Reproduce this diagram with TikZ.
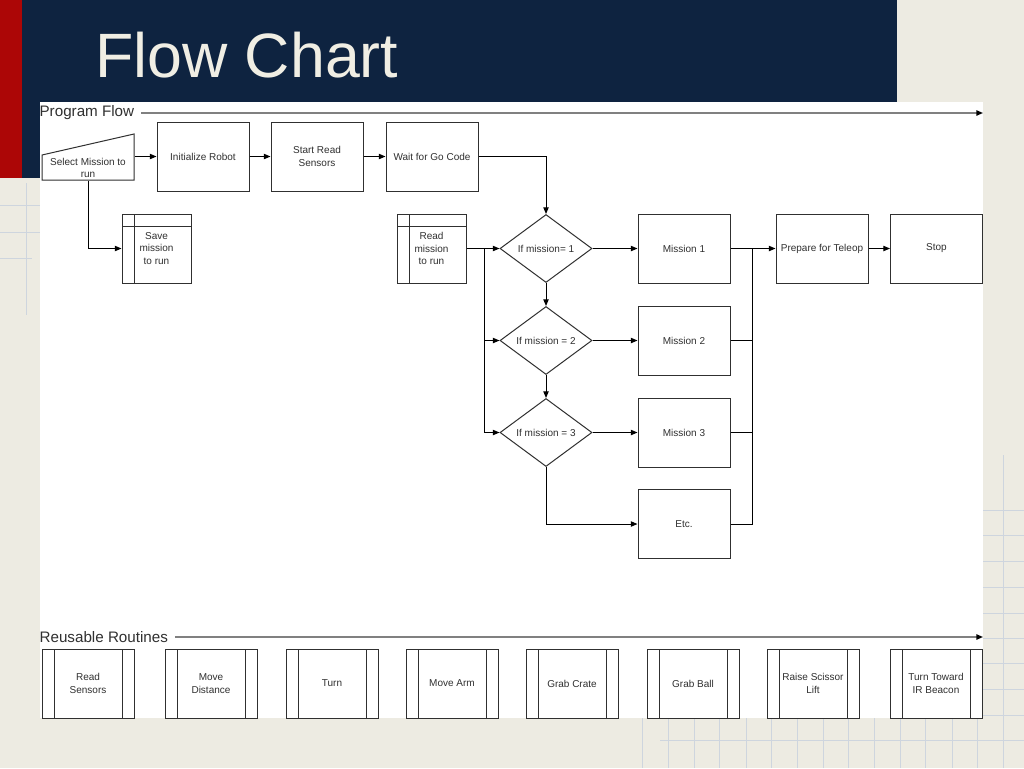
\documentclass[tikz,border=0pt]{standalone}
\usepackage{fontspec}
\setmainfont{Liberation Sans}
\usetikzlibrary{shapes.geometric,arrows.meta}
\definecolor{navy}{RGB}{14,35,64}
\definecolor{slidered}{RGB}{172,6,6}
\definecolor{paper}{RGB}{237,235,226}
\definecolor{gridc}{RGB}{206,213,222}
\definecolor{edge}{RGB}{48,48,48}
\definecolor{titlec}{RGB}{240,238,228}

\begin{document}
\begin{tikzpicture}
[x=0.75pt,y=-0.75pt]
\tikzset{box/.style={rectangle,draw=edge,line width=0.75pt,minimum width=69pt,minimum height=51.75pt,inner sep=1pt,align=center,text=edge,font=\fontsize{7.5}{9.2}\selectfont}}
\tikzset{store/.style={box,minimum width=51.75pt,path picture={
  \draw[edge,line width=0.75pt] ([xshift=9pt]path picture bounding box.north west) -- ([xshift=9pt]path picture bounding box.south west)
  ([yshift=-9pt]path picture bounding box.north west) -- ([yshift=-9pt]path picture bounding box.north east);}}}
\tikzset{routine/.style={box,path picture={
  \draw[edge,line width=0.75pt] ([xshift=9pt]path picture bounding box.north west) -- ([xshift=9pt]path picture bounding box.south west)
  ([xshift=-9pt]path picture bounding box.north east) -- ([xshift=-9pt]path picture bounding box.south east);}}}
\tikzset{dec/.style={diamond,draw=edge,line width=0.75pt,minimum width=69pt,minimum height=51pt,inner sep=0pt,text=edge,font=\fontsize{7.5}{9.2}\selectfont}}
\tikzset{arr/.style={-{Triangle[length=5pt,width=4pt,color=black]},line width=0.75pt}}
\tikzset{head/.style={anchor=west,inner sep=1pt,text=edge,font=\fontsize{11.4}{13}\selectfont}}
\tikzset{rule/.style={arr,draw=gray,line width=1.1pt,shorten <=4pt}}
\tikzset{gridline/.style={gridc,line width=0.75pt}}

\useasboundingbox (0,0) rectangle (1024,768);

% slide background
\fill[paper] (0,0) rectangle (1024,768);
\foreach \gx in {642,668,694,719,746,771,797,823,848,874,900,925,952,977,1003}
	\draw[gridline] (\gx,718) -- (\gx,768);
\draw[gridline] (660,740) -- (1024,740);
\draw[gridline] (1003,455) -- (1003,768);
\foreach \gy in {510,535,561,587,613,638,663,689,715}
	\draw[gridline] (983,\gy) -- (1024,\gy);
\draw[gridline] (26,183) -- (26,315);
\draw[gridline] (0,205) -- (40,205);
\draw[gridline] (0,232) -- (40,232);
\draw[gridline] (0,258) -- (32,258);
\fill[slidered] (0,0) rectangle (22,178);
\fill[navy] (22,0) rectangle (897,178);
\fill[white] (40,102) rectangle (983,718);

\node [anchor=base west,inner sep=0pt,text=titlec,font=\fontsize{47}{50}\selectfont] (title) at (95,77) {Flow Chart};

% program flow
\node [head] (pf) at (38,113) {Program Flow};
\coordinate (pfend) at (983,113);
\draw [rule] (pf.east) -- (pfend);

\node [box,draw=none,minimum height=18pt,inner sep=0pt] (sel) at (88,168) {Select Mission to\\run};
\draw [edge,line width=0.75pt] ([shift={(-46,12)}]sel.center) -- ([shift={(46,12)}]sel.center)
	-- ([shift={(46,-34)}]sel.center) -- ([shift={(-46,-13)}]sel.center) -- cycle;
\node [box] (init) at (203,156.5) {Initialize Robot};
\node [box] (start) at (317,156.5) {Start Read\\Sensors};
\node [box] (wait) at (432,156.5) {Wait for Go Code};

\node [store] (save) at (156.5,248.5) {Save\\mission\\to run};
\node [store] (read) at (431.5,248.5) {Read\\mission\\to run};

\node [dec] (d1) at (546,248.5) {If mission= 1};
\node [dec] (d2) at (546,340.5) {If mission = 2};
\node [dec] (d3) at (546,432.5) {If mission = 3};

\node [box] (m1) at (684,248.5) {Mission 1};
\node [box] (m2) at (684,340.5) {Mission 2};
\node [box] (m3) at (684,432.5) {Mission 3};
\node [box] (etc) at (684,524) {Etc.};

\node [box] (prep) at (822,248.5) {Prepare for Teleop};
\node [box] (stop) at (936.5,248.5) {Stop};

\coordinate (split) at (484,248.5);
\coordinate (join) at (752,248.5);

\draw [arr] (sel.east |- init.west) -- (init.west);
\draw [arr] (init) -- (start);
\draw [arr] (start) -- (wait);
\draw [arr] (wait.east) -| (d1.north);
\draw [arr] (sel.south) |- (save.west);
\draw [arr] (read.east) -- (d1.west);
\draw [arr] (split) |- (d2.west);
\draw [arr] (split) |- (d3.west);
\draw [arr] (d1.south) -- (d2.north);
\draw [arr] (d2.south) -- (d3.north);
\draw [arr] (d3.south) |- (etc.west);
\foreach \i in {1,2,3}
	\draw [arr] (d\i.east) -- (m\i.west);
\foreach \from in {m2,m3,etc}
	\draw [line width=0.75pt] (\from.east) -| (join);
\draw [arr] (m1.east) -- (prep.west);
\draw [arr] (prep) -- (stop);

% reusable routines
\node [head] (rr) at (38,637) {Reusable Routines};
\coordinate (rrend) at (983,637);
\draw [rule] (rr.east) -- (rrend);

\foreach \name/\x/\txt in {r1/88/{Read\\Sensors},r2/211/{Move\\Distance},r3/332/{Turn},r4/452/{Move Arm},
	r5/572/{Grab Crate},r6/693/{Grab Ball},r7/813/{Raise Scissor\\Lift},r8/936/{Turn Toward\\IR Beacon}}
	\node [routine] (\name) at (\x,683.5) {\txt};

\end{tikzpicture}
\end{document}
